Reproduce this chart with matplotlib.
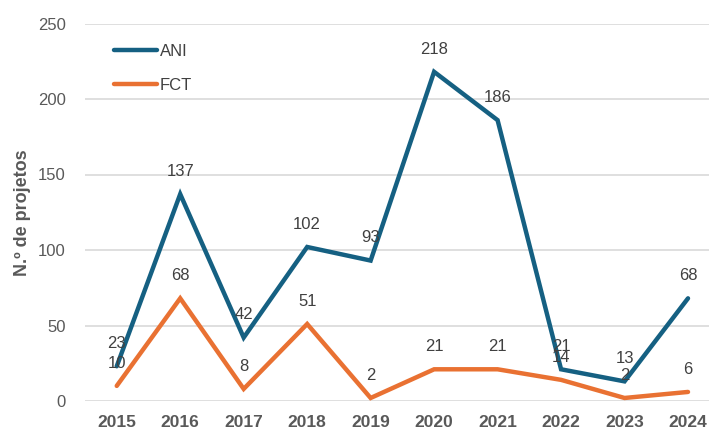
import matplotlib
matplotlib.use("Agg")
import matplotlib.pyplot as plt

years = ["2015", "2016", "2017", "2018", "2019", "2020", "2021", "2022", "2023", "2024"]
ani = [23, 137, 42, 102, 93, 218, 186, 21, 13, 68]
fct = [10, 68, 8, 51, 2, 21, 21, 14, 2, 6]

plt.rcParams['font.family'] = ['Liberation Sans', 'DejaVu Sans']

fig = plt.figure(figsize=(7.09, 4.37), dpi=100)
ax = fig.add_axes([85/709, 1 - 401/437, (709-85)/709, (401-23.5)/437])

x = list(range(len(years)))
c_ani = "#156082"
c_fct = "#E97132"
ax.plot(x, ani, color=c_ani, lw=3.2, label="ANI", solid_capstyle='round', solid_joinstyle='miter')
ax.plot(x, fct, color=c_fct, lw=3.2, label="FCT", solid_capstyle='round', solid_joinstyle='miter')

for xi, v in zip(x, ani):
    ax.annotate(str(v), (xi, v), xytext=(0, 11), textcoords='offset points',
                ha='center', va='bottom', fontsize=12, color='#404040')
for xi, v in zip(x, fct):
    ax.annotate(str(v), (xi, v), xytext=(0, 11), textcoords='offset points',
                ha='center', va='bottom', fontsize=12, color='#404040')

ax.set_ylim(0, 250)
ax.set_yticks([0, 50, 100, 150, 200, 250])
ax.set_xlim(-0.5, 9 + (709-688)/63.5)
ax.set_xticks(x)
ax.set_xticklabels(years, fontsize=12.5, fontweight='bold', color='#595959')
ax.tick_params(axis='y', labelsize=12, colors='#595959', length=0, pad=14)
ax.tick_params(axis='x', length=0, pad=10)
ax.grid(axis='y', color='#D9D9D9', lw=1.2)
ax.set_axisbelow(True)
for s in ax.spines.values():
    s.set_visible(False)
ax.set_ylabel("N.º de projetos", fontsize=13, fontweight='bold', color='#595959', labelpad=5)

leg = ax.legend(loc='upper left', bbox_to_anchor=(0.022, 0.985), frameon=False, fontsize=12,
                handlelength=2.6, labelspacing=1.15, handletextpad=0.15)
for t in leg.get_texts():
    t.set_color('#404040')

fig.savefig("out.png", dpi=100)
